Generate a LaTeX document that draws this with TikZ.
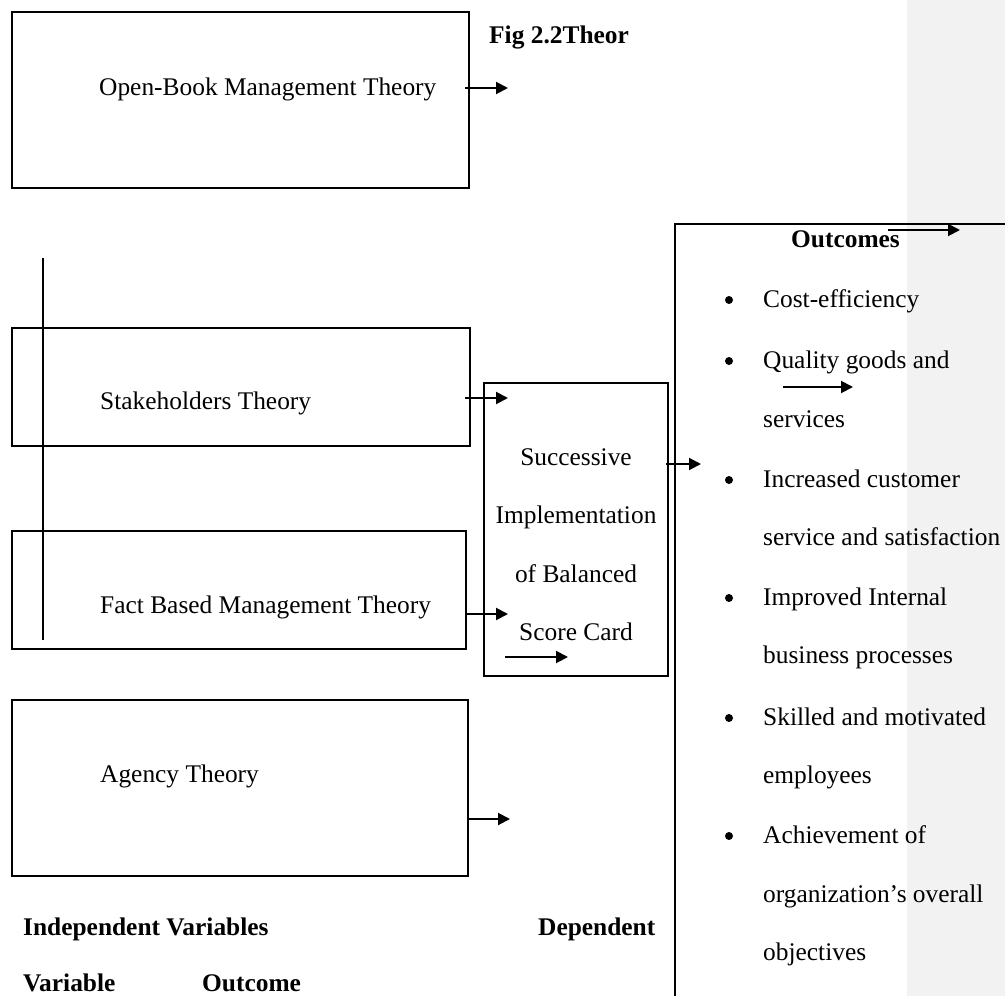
\documentclass[tikz,border=0pt]{standalone}
\usepackage{fontspec}
\setmainfont{Liberation Serif}
\usetikzlibrary{arrows.meta}
\definecolor{margingrey}{HTML}{F2F2F2}
\tikzset{
  box/.style={draw=black, line width=2.3pt, rectangle, inner sep=0pt},
  lbl/.style={inner sep=0pt, anchor=base west, font=\fontsize{25.4}{30}\selectfont},
  blbl/.style={lbl, font=\fontsize{25.4}{30}\selectfont\bfseries},
  clbl/.style={inner sep=0pt, anchor=base, font=\fontsize{25.4}{30}\selectfont},
  bul/.style={circle, fill=black, inner sep=0pt, minimum size=8pt},
  arr/.style={draw=black, line width=2pt, -{Triangle[length=12pt,width=12pt]}},
  thinline/.style={draw=black, line width=1.3pt},
  frameline/.style={draw=black, line width=2.3pt}
}
\begin{document}
\begin{tikzpicture}[x=1pt,y=-1pt]
\useasboundingbox (0,0) rectangle (1005,996);
\fill[white] (0,0) rectangle (1005,996);
\fill[margingrey] (907,0) rectangle (1005,996);

% boxes
\node[box, minimum width=457pt, minimum height=176pt] (ob) at (240.5,100) {};
\node[box, minimum width=458pt, minimum height=118pt] (sh) at (241,387) {};
\node[box, minimum width=454pt, minimum height=118pt] (fb) at (239,590) {};
\node[box, minimum width=456pt, minimum height=176pt] (ag) at (240,788) {};
\node[box, minimum width=184pt, minimum height=293pt] (sc) at (576,529.5) {};

% outcomes frame
\coordinate (oTR) at (1005,224);
\coordinate (oTL) at (675,224);
\coordinate (oBL) at (675,996);
\draw[frameline] (oTR) -- (oTL) -- (oBL);

% vertical line
\coordinate (vT) at (43,258);
\coordinate (vB) at (43,640);
\draw[thinline] (vT) -- (vB);

% texts
\node[lbl] (tob) at (99,95) {Open-Book Management Theory};
\node[blbl] (fig) at (489,43) {Fig 2.2Theor};
\node[lbl] (tsh) at (100,409) {Stakeholders Theory};
\node[lbl] (tfb) at (100,613) {Fact Based Management Theory};
\node[lbl] (tag) at (100,782) {Agency Theory};

\node[clbl] (s1) at (576,465) {Successive};
\node[clbl] (s2) at (576,523) {Implementation};
\node[clbl] (s3) at (576,582) {of Balanced};
\node[clbl] (s4) at (576,640) {Score Card};

\node[clbl, font=\fontsize{25.4}{30}\selectfont\bfseries] (otit) at (845.5,247) {Outcomes};

\node[bul] (b1) at (729,300) {};
\node[lbl] (l1) at (763,307) {Cost-efficiency};
\node[bul] (b2) at (729,361) {};
\node[lbl] (l2) at (763,368) {Quality goods and};
\node[lbl] (l3) at (763,427) {services};
\node[bul] (b3) at (729,480) {};
\node[lbl] (l4) at (763,487) {Increased customer};
\node[lbl] (l5) at (763,545) {service and satisfaction};
\node[bul] (b4) at (729,598) {};
\node[lbl] (l6) at (763,605) {Improved Internal};
\node[lbl] (l7) at (763,663) {business processes};
\node[bul] (b5) at (729,718) {};
\node[lbl] (l8) at (763,725) {Skilled and motivated};
\node[lbl] (l9) at (763,783) {employees};
\node[bul] (b6) at (729,836) {};
\node[lbl] (l10) at (763,843) {Achievement of};
\node[lbl] (l11) at (763,902) {organization’s overall};
\node[lbl] (l12) at (763,960) {objectives};

\node[blbl] (iv) at (23,935) {Independent Variables};
\node[blbl] (dep) at (538,935) {Dependent};
\node[blbl] (var) at (23,991) {Variable};
\node[blbl] (out) at (202,991) {Outcome};

% arrows
\coordinate (a1s) at (465,88);  \coordinate (a1e) at (508,88);
\coordinate (a2s) at (465,398); \coordinate (a2e) at (508,398);
\coordinate (a3s) at (466,614); \coordinate (a3e) at (508,614);
\coordinate (a4s) at (469,819); \coordinate (a4e) at (510,819);
\coordinate (a5s) at (666,464); \coordinate (a5e) at (701,464);
\coordinate (a6s) at (505,657); \coordinate (a6e) at (568,657);
\coordinate (a7s) at (783,387); \coordinate (a7e) at (853,387);
\coordinate (a8s) at (888,230); \coordinate (a8e) at (960,230);
\draw[arr] (a1s) -- (a1e);
\draw[arr] (a2s) -- (a2e);
\draw[arr] (a3s) -- (a3e);
\draw[arr] (a4s) -- (a4e);
\draw[arr] (a5s) -- (a5e);
\draw[arr] (a6s) -- (a6e);
\draw[arr] (a7s) -- (a7e);
\draw[arr] (a8s) -- (a8e);
\end{tikzpicture}
\end{document}
